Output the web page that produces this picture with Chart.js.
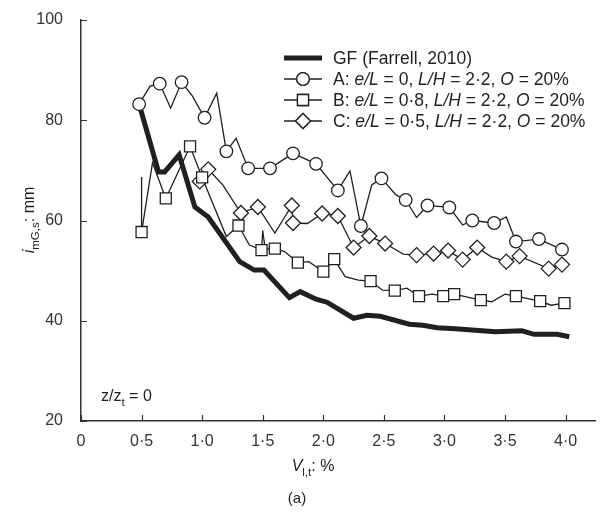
<!DOCTYPE html>
<html>
<head>
<meta charset="utf-8">
<script src="https://cdn.jsdelivr.net/npm/chart.js@4"></script>
<style>
  body { margin: 0; background: #fff; }
  #wrap { width: 605px; height: 519px; }
</style>
</head>
<body>
<div id="wrap"><canvas id="chart" width="605" height="519"></canvas></div>
<script>
// GF curve (Farrell, 2010)
const gfX = [0.48, 0.64, 0.69, 0.81, 0.94, 1.05, 1.31, 1.43, 1.51, 1.72, 1.81, 1.94, 2.03, 2.25, 2.36, 2.47, 2.71, 2.82, 2.94, 3.09, 3.42, 3.64, 3.74, 3.93, 4.03];
const gfY = [83.2, 69.7, 69.7, 73.1, 62.7, 60.7, 51.8, 50.1, 50.1, 44.6, 45.8, 44.3, 43.7, 40.5, 41.1, 40.9, 39.3, 39.1, 38.6, 38.4, 37.8, 38.0, 37.3, 37.3, 36.8];

// A: e/L = 0
const aX = [0.48, 0.57, 0.65, 0.74, 0.83, 0.92, 1.02, 1.12, 1.20, 1.28, 1.38, 1.56, 1.75, 1.94, 2.12, 2.22, 2.31, 2.40, 2.48, 2.60, 2.68, 2.77, 2.86, 3.04, 3.15, 3.23, 3.41, 3.51, 3.59, 3.78, 3.97];
const aY = [83.2, 86.8, 87.3, 82.4, 87.6, 84.8, 80.5, 85.4, 73.8, 76.4, 70.4, 70.4, 73.4, 71.3, 66.0, 69.9, 58.9, 67.1, 68.4, 65.1, 64.1, 60.6, 63.0, 62.6, 59.1, 60.0, 59.5, 60.7, 55.8, 56.3, 54.2];
const aMarks = [0, 2, 4, 6, 8, 10, 11, 12, 13, 14, 16, 18, 20, 22, 23, 25, 26, 28, 29, 30];

// B: e/L = 0.8
const bX = [0.50, 0.50, 0.59, 0.70, 0.90, 1.00, 1.20, 1.30, 1.39, 1.49, 1.50, 1.52, 1.60, 1.68, 1.79, 1.88, 2.00, 2.09, 2.18, 2.29, 2.39, 2.49, 2.59, 2.69, 2.79, 2.90, 2.99, 3.08, 3.30, 3.39, 3.50, 3.59, 3.79, 3.88, 3.99];
const bY = [68.7, 57.7, 71.5, 64.4, 74.8, 68.6, 56.8, 59.0, 55.1, 54.1, 58.0, 54.3, 54.4, 53.8, 51.6, 51.8, 49.8, 52.3, 48.8, 48.1, 47.9, 46.1, 46.0, 46.5, 44.9, 45.3, 44.9, 45.3, 44.1, 43.8, 45.3, 44.9, 43.9, 43.1, 43.5];
const bMarks = [1, 3, 4, 5, 7, 9, 12, 14, 16, 17, 20, 22, 24, 26, 27, 28, 31, 32, 34];

// C: e/L = 0.5
const cX = [0.98, 1.05, 1.17, 1.32, 1.46, 1.60, 1.74, 1.75, 1.87, 1.99, 2.12, 2.25, 2.38, 2.51, 2.66, 2.77, 2.91, 3.03, 3.15, 3.27, 3.39, 3.51, 3.62, 3.86, 3.97];
const cY = [67.8, 70.2, 67.1, 61.5, 62.7, 57.5, 63.0, 59.5, 59.4, 61.4, 60.9, 54.6, 56.9, 55.4, 53.3, 53.1, 53.4, 54.0, 52.2, 54.6, 52.7, 51.8, 52.9, 50.4, 51.2];
const cMarks = [0, 1, 3, 4, 6, 7, 9, 10, 11, 12, 13, 15, 16, 17, 18, 19, 21, 22, 23, 24];

const xTicks = [0, 0.5, 1, 1.5, 2, 2.5, 3, 3.5, 4];
const yTicks = [20, 40, 60, 80, 100];

const ink = '#231f20';
const FONT = '"Liberation Sans", Arial, sans-serif';

function pts(xs, ys) {
  return xs.map((x, i) => ({ x: x, y: ys[i] }));
}
function marked(xs, ys, idx) {
  return idx.map(i => ({ x: xs[i], y: ys[i] }));
}

function lineSet(data, width, order) {
  return { data: data, borderColor: ink, borderWidth: width, pointRadius: 0, tension: 0, order: order };
}
function markSet(data, style, r) {
  return {
    data: data, showLine: false, pointStyle: style, pointRadius: r,
    pointBackgroundColor: '#fff', pointBorderColor: ink, pointBorderWidth: 1.3, order: 0
  };
}

// legend rows: parts [text, italic]
const legendRows = [
  { kind: 'gf', parts: [['GF (Farrell, 2010)', false]] },
  { kind: 'circle', parts: [['A: ', false], ['e/L', true], [' = 0, ', false], ['L/H', true], [' = 2·2, ', false], ['O', true], [' = 20%', false]] },
  { kind: 'rect', parts: [['B: ', false], ['e/L', true], [' = 0·8, ', false], ['L/H', true], [' = 2·2, ', false], ['O', true], [' = 20%', false]] },
  { kind: 'rectRot', parts: [['C: ', false], ['e/L', true], [' = 0·5, ', false], ['L/H', true], [' = 2·2, ', false], ['O', true], [' = 20%', false]] }
];

// runs of text with italic / subscript pieces
function runWidth(ctx, runs, size) {
  let w = 0;
  runs.forEach(r => {
    const s = r.sub ? size * 0.72 : size;
    ctx.font = (r.it ? 'italic ' : '') + s + 'px ' + FONT;
    w += ctx.measureText(r.t).width;
  });
  return w;
}
function drawRuns(ctx, runs, x, y, size) {
  runs.forEach(r => {
    const s = r.sub ? size * 0.72 : size;
    ctx.font = (r.it ? 'italic ' : '') + s + 'px ' + FONT;
    ctx.fillText(r.t, x, r.sub ? y + size * 0.3 : y);
    x += ctx.measureText(r.t).width;
  });
}

const extras = {
  id: 'extras',
  afterDraw(chart) {
    const { ctx, chartArea, scales: { x, y } } = chart;
    ctx.save();
    // inward tick marks
    ctx.strokeStyle = '#333';
    ctx.lineWidth = 1.2;
    ctx.beginPath();
    xTicks.forEach(v => {
      const px = Math.round(x.getPixelForValue(v)) + 0.5;
      ctx.moveTo(px, chartArea.bottom);
      ctx.lineTo(px, chartArea.bottom - 6);
    });
    yTicks.forEach(v => {
      const py = Math.round(y.getPixelForValue(v)) + 0.5;
      ctx.moveTo(chartArea.left, py);
      ctx.lineTo(chartArea.left + 6, py);
    });
    ctx.stroke();

    // legend
    ctx.fillStyle = ink;
    ctx.textBaseline = 'middle';
    legendRows.forEach((row, i) => {
      const ly = 58 + i * 21;
      ctx.strokeStyle = ink;
      ctx.beginPath();
      ctx.lineWidth = row.kind === 'gf' ? 5 : 1.3;
      ctx.moveTo(284, ly);
      ctx.lineTo(322, ly);
      ctx.stroke();
      if (row.kind !== 'gf') {
        const r = row.kind === 'circle' ? 6.3 : row.kind === 'rect' ? 7.8 : 7.5;
        ctx.fillStyle = '#fff';
        ctx.lineWidth = 1.3;
        Chart.helpers.drawPoint(ctx, { pointStyle: row.kind, radius: r, borderWidth: 1.3 }, 303, ly);
        ctx.fill();
        ctx.stroke();
        ctx.fillStyle = ink;
      }
      let tx = 333;
      row.parts.forEach(p => {
        ctx.font = (p[1] ? 'italic ' : '') + '17.5px ' + FONT;
        ctx.fillText(p[0], tx, ly + 1);
        tx += ctx.measureText(p[0]).width;
      });
    });

    // axis titles and notes
    ctx.textBaseline = 'alphabetic';
    const xt = [{ t: 'V', it: true }, { t: 'l,t', sub: true }, { t: ': %' }];
    drawRuns(ctx, xt, 313 - runWidth(ctx, xt, 16) / 2, 471, 16);

    const yt = [{ t: 'i', it: true }, { t: 'mG,s', sub: true }, { t: ': mm' }];
    ctx.save();
    ctx.translate(34, 220);
    ctx.rotate(-Math.PI / 2);
    drawRuns(ctx, yt, -runWidth(ctx, yt, 16) / 2, 0, 16);
    ctx.restore();

    drawRuns(ctx, [{ t: 'z/z' }, { t: 't', sub: true }, { t: ' = 0' }], 101, 401, 16);

    ctx.font = '15px ' + FONT;
    ctx.textAlign = 'center';
    ctx.fillText('(a)', 297, 503);
    ctx.restore();
  }
};

new Chart(document.getElementById('chart'), {
  type: 'line',
  data: {
    datasets: [
      lineSet(pts(gfX, gfY), 5, 2),
      lineSet(pts(aX, aY), 1.3, 1),
      lineSet(pts(bX, bY), 1.3, 1),
      lineSet(pts(cX, cY), 1.3, 1),
      markSet(marked(aX, aY, aMarks), 'circle', 6.3),
      markSet(marked(bX, bY, bMarks), 'rect', 7.8),
      markSet(marked(cX, cY, cMarks), 'rectRot', 7.5)
    ]
  },
  options: {
    responsive: false,
    animation: false,
    layout: { padding: { top: 20, right: 3, left: 0, bottom: 0 } },
    plugins: { legend: { display: false }, tooltip: { enabled: false } },
    scales: {
      x: {
        type: 'linear', min: 0, max: 4.25,
        afterBuildTicks: s => { s.ticks = xTicks.map(v => ({ value: v })); },
        afterFit: s => { s.height = 98; },
        grid: { display: false },
        border: { color: '#333', width: 1.5 },
        ticks: {
          color: '#333', padding: 3, maxRotation: 0,
          font: { family: FONT, size: 16 },
          callback: v => v === 0 ? '0' : v.toFixed(1).replace('.', '·')
        }
      },
      y: {
        min: 20, max: 100,
        afterBuildTicks: s => { s.ticks = yTicks.map(v => ({ value: v })); },
        afterFit: s => { s.width = 81; },
        grid: { display: false },
        border: { color: '#333', width: 1.5 },
        ticks: { color: '#333', padding: 10, font: { family: FONT, size: 16 } }
      }
    }
  },
  plugins: [extras]
});
</script>
</body>
</html>
